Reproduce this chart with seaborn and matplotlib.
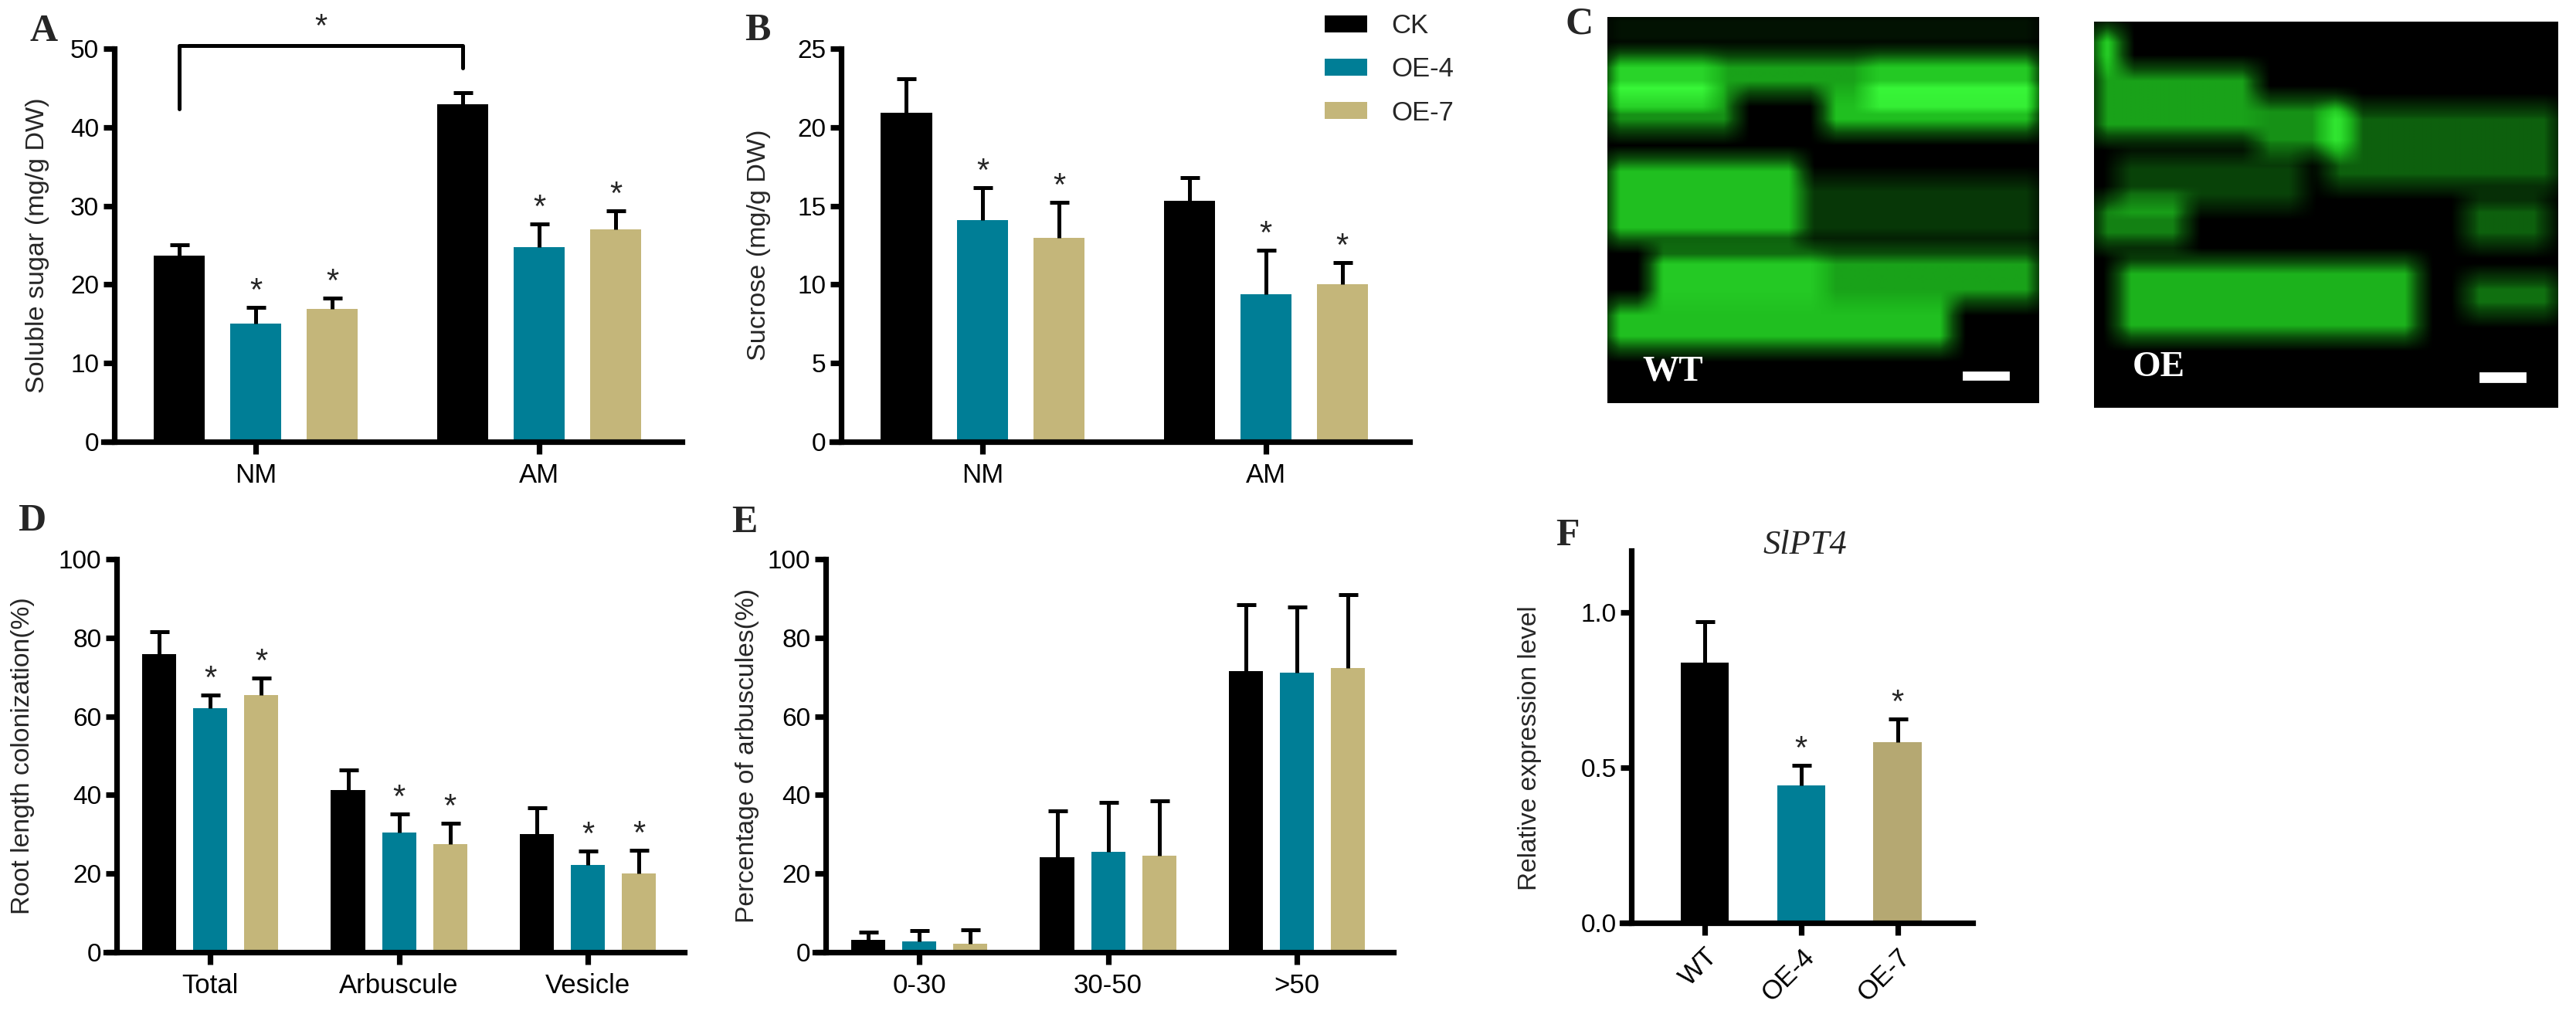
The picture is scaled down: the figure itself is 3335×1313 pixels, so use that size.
import numpy as np
import pandas as pd
import matplotlib
matplotlib.use("Agg")
import matplotlib.pyplot as plt
from matplotlib.colors import LinearSegmentedColormap
from matplotlib.patches import Rectangle
import seaborn as sns

# Datos
SERIES = ["CK", "OE-4", "OE-7"]
COLORS = ["#000000", "#007E96", "#C4B67A"]

# A: azúcar soluble
cats_a = ["NM", "AM"]
sugar_mean = [[23.7, 42.9], [15.0, 24.8], [16.9, 27.0]]
sugar_sd = [[1.3, 1.5], [2.1, 2.9], [1.4, 2.4]]
sugar_star = [[0, 0], [1, 1], [1, 1]]
bracket_y = 50.4
bracket_legs = [42.3, 47.5]

# B: sacarosa
cats_b = ["NM", "AM"]
sucrose_mean = [[20.9, 15.3], [14.1, 9.4], [12.95, 10.0]]
sucrose_sd = [[2.2, 1.5], [2.05, 2.8], [2.3, 1.4]]
sucrose_star = [[0, 0], [1, 1], [1, 1]]

# D: colonización
cats_d = ["Total", "Arbuscule", "Vesicle"]
colon_mean = [[75.9, 41.2, 30.0], [62.1, 30.5, 22.2], [65.4, 27.6, 20.1]]
colon_sd = [[5.6, 5.1, 6.8], [3.3, 4.6, 3.5], [4.3, 5.2, 5.8]]
colon_star = [[0, 0, 0], [1, 1, 1], [1, 1, 1]]

# E: porcentaje de arbúsculos
cats_e = ["0-30", "30-50", ">50"]
arb_mean = [[3.2, 24.2, 71.6], [2.7, 25.6, 71.1], [2.2, 24.6, 72.3]]
arb_sd = [[1.9, 11.7, 16.9], [2.8, 12.6, 16.8], [3.5, 13.9, 18.7]]
arb_star = [[0, 0, 0], [0, 0, 0], [0, 0, 0]]

# F: expresión relativa SlPT4
lines_f = ["WT", "OE-4", "OE-7"]
expr_mean = [0.84, 0.444, 0.583]
expr_sd = [0.132, 0.064, 0.074]
expr_star = [0, 1, 1]
COLORS_F = ["#000000", "#007E96", "#B5A872"]

# C: bandas de fluorescencia (x0, x1, y0, y1, intensidad), fracciones de imagen
WT_BANDS = [
    (0.0, 1.0, 0.02, 0.05, 0.2),
    (0.0, 0.25, 0.10, 0.22, 0.8),
    (0.25, 0.6, 0.10, 0.20, 0.6),
    (0.6, 1.0, 0.10, 0.22, 0.75),
    (0.0, 0.3, 0.20, 0.30, 0.55),
    (0.5, 1.0, 0.20, 0.30, 0.7),
    (0.0, 0.45, 0.37, 0.58, 0.7),
    (0.45, 1.0, 0.42, 0.58, 0.25),
    (0.1, 0.5, 0.61, 0.74, 0.75),
    (0.5, 1.0, 0.61, 0.74, 0.6),
    (0.0, 0.8, 0.74, 0.86, 0.7),
]
OE_BANDS = [
    (0.0, 0.06, 0.02, 0.12, 0.8),
    (0.0, 0.35, 0.12, 0.30, 0.6),
    (0.35, 0.55, 0.20, 0.34, 0.55),
    (0.5, 1.0, 0.22, 0.43, 0.4),
    (0.05, 0.45, 0.35, 0.48, 0.3),
    (0.0, 0.2, 0.46, 0.58, 0.5),
    (0.8, 0.98, 0.46, 0.58, 0.4),
    (0.05, 0.7, 0.62, 0.82, 0.65),
    (0.8, 1.0, 0.66, 0.76, 0.45),
]

sns.set_theme(style="ticks")
plt.rcParams["font.family"] = ["Liberation Sans Narrow", "Liberation Sans", "DejaVu Sans"]
SANS = ["Liberation Sans", "DejaVu Sans"]
SERIF = ["Liberation Serif", "DejaVu Serif"]

W, H = 3335, 1313
fig = plt.figure(figsize=(W / 200, H / 200), dpi=200)


def px_axes(l, t, r, b):
    return fig.add_axes([l / W, 1 - b / H, (r - l) / W, (b - t) / H])


def style_axes(ax, spine_x):
    sns.despine(ax=ax)
    ax.spines["left"].set_position(("data", spine_x))
    for s in ("left", "bottom"):
        ax.spines[s].set_linewidth(2.6)
        ax.spines[s].set_color("black")
    ax.tick_params(axis="y", direction="out", length=5, width=2.6, labelsize=12, pad=2, colors="black")
    ax.tick_params(axis="x", direction="out", length=5.7, width=2.6, labelsize=12.5, pad=4, colors="black")
    ax.set_xlabel("")


def add_errors(ax, bars, sds, stars):
    for bar, sd, st in zip(bars, sds, stars):
        x = bar.get_x() + bar.get_width() / 2
        h = bar.get_height()
        eb = ax.errorbar(x, h, yerr=[[0], [sd]], fmt="none", ecolor="black",
                         elinewidth=1.8, capsize=4.5, capthick=1.8, clip_on=False, zorder=3)
        # solo la barra superior (estilo GraphPad)
        for cap in eb[1]:
            if np.allclose(cap.get_ydata(), h):
                cap.set_visible(False)
        if st:
            ax.annotate("*", (x, h + sd), xytext=(0, 0), textcoords="offset points",
                        ha="center", va="bottom", fontsize=15, family=SANS,
                        annotation_clip=False)


def grouped_panel(ax, cats, means, sds, stars, legend=False):
    rows = []
    for s, vals in zip(SERIES, means):
        for c, v in zip(cats, vals):
            rows.append((c, s, v))
    df = pd.DataFrame(rows, columns=["cat", "series", "value"])
    sns.barplot(data=df, x="cat", y="value", hue="series", hue_order=SERIES,
                palette=COLORS, width=0.81, gap=0.33, errorbar=None,
                saturation=1, linewidth=0, ax=ax, legend=legend)
    for cont, sd, st in zip(ax.containers, sds, stars):
        add_errors(ax, cont, sd, st)
    return ax


# Panel A
axA = px_axes(134, 63, 883, 572)
grouped_panel(axA, cats_a, sugar_mean, sugar_sd, sugar_star)
axA.set_xlim(-0.537, 1.504)
axA.set_ylim(0, 50)
axA.set_yticks(range(0, 51, 10))
style_axes(axA, -0.5)
axA.set_ylabel("Soluble sugar (mg/g DW)", family=SANS, fontsize=12.3)
axA.yaxis.set_label_coords(-0.0935, 0.5)
ck = axA.containers[0]
x0 = ck[0].get_x() + ck[0].get_width() / 2
x1 = ck[1].get_x() + ck[1].get_width() / 2
axA.plot([x0, x0, x1, x1], [bracket_legs[0], bracket_y, bracket_y, bracket_legs[1]],
         color="black", lw=1.8, clip_on=False)
axA.annotate("*", ((x0 + x1) / 2, bracket_y), xytext=(0, 1), textcoords="offset points",
             ha="center", va="bottom", fontsize=15, family=SANS, annotation_clip=False)

# Panel B
axB = px_axes(1077, 63, 1825, 572)
grouped_panel(axB, cats_b, sucrose_mean, sucrose_sd, sucrose_star, legend=True)
axB.set_xlim(-0.533, 1.508)
axB.set_ylim(0, 25)
axB.set_yticks(range(0, 26, 5))
style_axes(axB, -0.5)
axB.set_ylabel("Sucrose (mg/g DW)", family=SANS, fontsize=12.3)
axB.yaxis.set_label_coords(-0.106, 0.5)
handles, labels = axB.get_legend_handles_labels()
axB.legend(handles, labels, loc="upper left", bbox_to_anchor=(1715 / W, 1 - 17 / H),
           bbox_transform=fig.transFigure, frameon=False, borderpad=0, borderaxespad=0,
           handlelength=1.58, handleheight=0.58, handletextpad=0.9, labelspacing=0.67,
           fontsize=12.5)

# Panel D
axD = px_axes(137, 724, 886, 1233)
grouped_panel(axD, cats_d, colon_mean, colon_sd, colon_star)
axD.set_xlim(-0.552, 2.51)
axD.set_ylim(0, 100)
axD.set_yticks(range(0, 101, 20))
style_axes(axD, -0.495)
axD.set_ylabel("Root length colonization(%)", family=SANS, fontsize=12.1)
axD.yaxis.set_label_coords(-0.123, 0.5)

# Panel E
axE = px_axes(1055, 724, 1804, 1233)
grouped_panel(axE, cats_e, arb_mean, arb_sd, arb_star)
axE.set_xlim(-0.552, 2.51)
axE.set_ylim(0, 100)
axE.set_yticks(range(0, 101, 20))
style_axes(axE, -0.495)
axE.set_ylabel("Percentage of arbuscules(%)", family=SANS, fontsize=12.1)
axE.yaxis.set_label_coords(-0.096, 0.5)

# Panel F
axF = px_axes(2100, 713, 2554, 1195)
dfF = pd.DataFrame({"line": lines_f, "value": expr_mean})
sns.barplot(data=dfF, x="line", y="value", hue="line", palette=COLORS_F, width=0.5,
            saturation=1, linewidth=0, errorbar=None, legend=False, ax=axF)
bars_f = [c[0] for c in axF.containers]
add_errors(axF, bars_f, expr_sd, expr_star)
axF.set_xlim(-0.856, 2.78)
axF.set_ylim(0, 1.2)
axF.set_yticks([0, 0.5, 1.0])
axF.set_yticklabels(["0.0", "0.5", "1.0"])
style_axes(axF, -0.76)
axF.set_xticks(range(3))
axF.set_xticklabels(lines_f, rotation=45, ha="right", rotation_mode="anchor",
                    family=SANS, fontsize=12.5)
axF.set_ylabel("Relative expression level", family=SANS, fontsize=12)
axF.yaxis.set_label_coords(-0.229, 0.47)
fig.text(2337 / W, 1 - 706 / H, "SlPT4", family=SERIF, style="italic",
         fontsize=16, ha="center", va="center")

# Panel C: imágenes de microscopía
green = LinearSegmentedColormap.from_list("gfp", ["#000000", "#0A4A0A", "#1DB81D", "#3CFF3C"])


def band_image(bands, ny=250, nx=280):
    img = np.zeros((ny, nx))
    for bx0, bx1, by0, by1, val in bands:
        img[int(by0 * ny):int(by1 * ny), int(bx0 * nx):int(bx1 * nx)] += val
    k = np.ones(17) / 17
    img = np.apply_along_axis(lambda r: np.convolve(r, k, mode="same"), 1, img)
    img = np.apply_along_axis(lambda c: np.convolve(c, k, mode="same"), 0, img)
    return np.clip(img, 0, 1)


for (l, t, r, b), bands, name, tx, ty, sb in [
    ((2081, 22, 2640, 522), WT_BANDS, "WT", 0.152, 0.918, (0.825, 0.929, 0.92, 0.938)),
    ((2711, 28, 3312, 528), OE_BANDS, "OE", 0.14, 0.896, (0.832, 0.928, 0.91, 0.932)),
]:
    axc = px_axes(l, t, r, b)
    axc.imshow(band_image(bands), cmap=green, vmin=0, vmax=1, aspect="auto",
               extent=(0, 1, 1, 0), interpolation="bilinear")
    axc.set_xlim(0, 1)
    axc.set_ylim(1, 0)
    axc.axis("off")
    axc.text(tx, 1 - ty, name, color="white", family=SERIF, weight="bold", fontsize=17,
             ha="center", va="center", transform=axc.transAxes)
    axc.add_patch(Rectangle((sb[0], 1 - sb[3]), sb[1] - sb[0], sb[3] - sb[2],
                            transform=axc.transAxes, color="white"))

# Letras de panel
for letter, x, y in [("A", 57, 41), ("B", 981, 40), ("C", 2045, 31),
                     ("D", 41, 675), ("E", 964, 677), ("F", 2029, 694)]:
    fig.text(x / W, 1 - y / H, letter, family=SERIF, weight="bold", fontsize=18,
             ha="center", va="center")

fig.savefig("out.png", dpi=200)
